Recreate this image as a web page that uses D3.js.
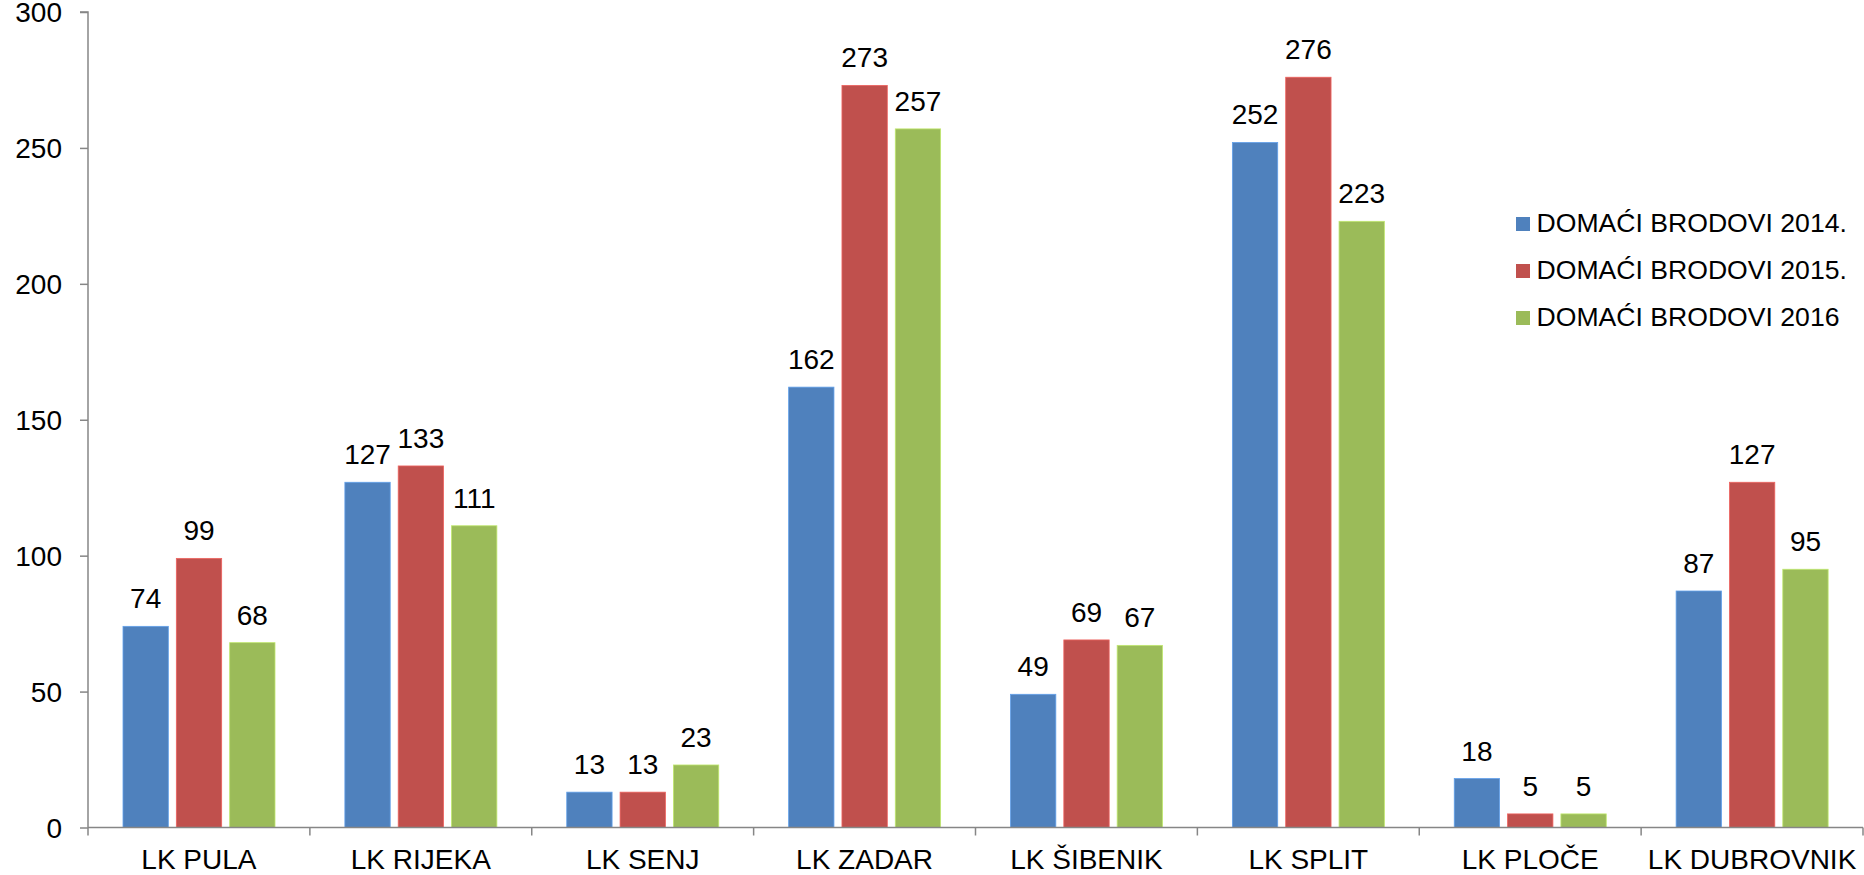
<!DOCTYPE html>
<html>
<head>
<meta charset="utf-8">
<script src="https://cdn.jsdelivr.net/npm/d3@7"></script>
<style>
  body { margin: 0; background: #fff; }
  text { font-family: "Liberation Sans", Arial, sans-serif; fill: #000; }
</style>
</head>
<body>
<div id="content"></div>
<script>
(function(d3) {

   var categories = ["LK PULA", "LK RIJEKA", "LK SENJ", "LK ZADAR", "LK ŠIBENIK", "LK SPLIT", "LK PLOČE", "LK DUBROVNIK"];
   var seriesNames = ["DOMAĆI BRODOVI 2014.", "DOMAĆI BRODOVI 2015.", "DOMAĆI BRODOVI 2016"];
   var values2014 = [74, 127, 13, 162, 49, 252, 18, 87];
   var values2015 = [99, 133, 13, 273, 69, 276, 5, 127];
   var values2016 = [68, 111, 23, 257, 67, 223, 5, 95];
   var yTicks = [0, 50, 100, 150, 200, 250, 300];
   var colors = ["#4F81BD", "#C0504D", "#9BBB59"];

   var win_width = 1864;
   var win_height = 875;

   var left = 88, right = 1863, top = 12, bottom = 827.5; // plot area

   var svg = d3.select("#content")
            .append("svg")
            .attr("width", win_width)
            .attr("height", win_height);

   var y = d3.scaleLinear().domain([0, 300]).range([bottom, top]);
   var x0 = d3.scaleBand().domain(categories).range([left, right]).padding(0);
   var x1 = d3.scaleBand().domain(seriesNames).range([35, 187]).paddingInner(0.15);

   var series = [values2014, values2015, values2016];

   // y axis
   var yAxis = svg.append("g")
      .attr("transform", "translate(" + left + ",0)")
      .call(d3.axisLeft(y).tickValues(yTicks).tickSize(8).tickPadding(18));
   yAxis.selectAll("line, path").attr("stroke", "#868686").attr("stroke-width", 1.5);
   yAxis.select("path").attr("d", "M0," + bottom + "V" + top + "H-8");
   yAxis.selectAll("text").style("font-size", "28px").attr("dy", "0.35em")
      .style("font-family", "'Liberation Sans', Arial, sans-serif").attr("fill", "#000");

   // bars
   var groups = svg.selectAll("g.cat")
      .data(categories)
      .enter().append("g")
      .attr("class", "cat")
      .attr("transform", function(d) { return "translate(" + x0(d) + ",0)"; });

   seriesNames.forEach(function(name, si) {
      groups.append("rect")
         .attr("x", x1(name))
         .attr("width", x1.bandwidth())
         .attr("y", function(d, i) { return y(series[si][i]); })
         .attr("height", function(d, i) { return bottom - y(series[si][i]); })
         .attr("fill", colors[si])
         .attr("stroke", d3.color(colors[si]).brighter(0.6))
         .attr("stroke-width", 0.8);

      groups.append("text")
         .attr("x", x1(name) + x1.bandwidth() / 2)
         .attr("y", function(d, i) { return y(series[si][i]) - 18; })
         .attr("text-anchor", "middle")
         .style("font-size", "28px")
         .text(function(d, i) { return series[si][i]; });
   });

   // x axis line and category ticks
   var xAxis = svg.append("g");
   xAxis.append("line")
      .attr("x1", left).attr("x2", right)
      .attr("y1", bottom).attr("y2", bottom)
      .attr("stroke", "#868686").attr("stroke-width", 1.5);
   xAxis.selectAll("line.tick")
      .data(d3.range(categories.length + 1))
      .enter().append("line")
      .attr("class", "tick")
      .attr("x1", function(i) { return left + i * x0.step(); })
      .attr("x2", function(i) { return left + i * x0.step(); })
      .attr("y1", bottom).attr("y2", bottom + 8)
      .attr("stroke", "#868686").attr("stroke-width", 1.5);
   xAxis.selectAll("text")
      .data(categories)
      .enter().append("text")
      .attr("x", function(d) { return x0(d) + x0.bandwidth() / 2; })
      .attr("y", 869)
      .attr("text-anchor", "middle")
      .style("font-size", "28px")
      .text(function(d) { return d; });

   // legend
   var legend = svg.append("g").attr("transform", "translate(1516,0)");
   seriesNames.forEach(function(name, i) {
      var by = 231.5 + i * 47;
      legend.append("rect")
         .attr("x", 0).attr("y", by - 14.5)
         .attr("width", 14).attr("height", 14)
         .attr("fill", colors[i]);
      legend.append("text")
         .attr("x", 20.5).attr("y", by)
         .style("font-size", "26.6px")
         .text(name);
   });

})(window.d3);
</script>
</body>
</html>
